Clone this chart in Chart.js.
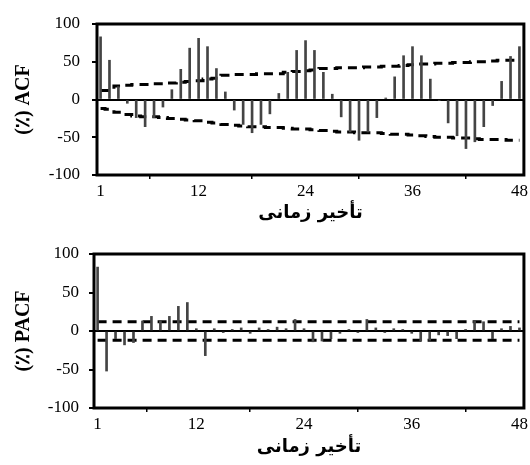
<!DOCTYPE html>
<html>
<head>
<meta charset="utf-8">
<script src="https://cdn.jsdelivr.net/npm/chart.js@4"></script>
<style>
  body { margin: 0; background: #fff; }
  #wrap { position: relative; width: 530px; height: 465px; }
  .box { position: absolute; left: 0; width: 530px; }
</style>
</head>
<body>
<div id="wrap">
  <div class="box" style="top:0;height:232px"><canvas id="acfChart"></canvas></div>
  <div class="box" style="top:232px;height:233px"><canvas id="pacfChart"></canvas></div>
</div>
<script>
const lags = [1, 2, 3, 4, 5, 6, 7, 8, 9, 10, 11, 12, 13, 14, 15, 16, 17, 18, 19, 20, 21, 22, 23, 24,
  25, 26, 27, 28, 29, 30, 31, 32, 33, 34, 35, 36, 37, 38, 39, 40, 41, 42, 43, 44, 45, 46, 47, 48];
const xTicks = [1, 12, 24, 36, 48];
const yTicks = [-100, -50, 0, 50, 100];

// autocorrelation (%)
const acf = [83, 52, 17, -5, -24, -36, -24, -10, 13, 40, 68, 81, 70, 41, 10, -14, -33, -44, -33, -19, 8, 36, 65, 78,
  65, 36, 7, -23, -43, -54, -43, -24, 2, 30, 58, 70, 58, 27, -1, -31, -48, -65, -56, -36, -8, 24, 57, 70];
const acfUpper = [12, 12, 18, 19, 20, 20, 21, 21, 22, 23, 24, 25, 27, 28, 32, 33, 33, 33, 34, 34, 34, 36, 37, 38,
  39, 41, 41, 42, 42, 42, 43, 43, 44, 44, 45, 46, 47, 47, 48, 48, 49, 49, 50, 50, 51, 52, 52, 53];
const acfLower = [-12, -13, -17, -20, -22, -23, -23, -24, -25, -26, -27, -28, -30, -31, -33, -34, -35, -36, -36, -37, -37, -38, -39, -39,
  -40, -41, -42, -43, -43, -44, -44, -44, -45, -46, -46, -47, -48, -49, -50, -50, -51, -51, -52, -53, -53, -53, -54, -54];

// partial autocorrelation (%)
const pacf = [83, -52, -10, -18, -15, 13, 19, 13, 19, 32, 37, 3, -32, 3, -2, 2, 4, -3, 4, 2, 5, 3, 15, 3,
  -14, -13, -10, -3, 2, -2, 15, 4, -2, 3, 2, -3, -13, -12, -5, -6, -10, 2, 13, 12, -10, 3, 6, 4];
const pacfLimit = 12;

const xTitle = 'تأخیر زمانی';

const frame = {
  id: 'frame',
  afterDatasetsDraw(chart) {
    const { ctx, chartArea: a } = chart;
    ctx.save();
    ctx.strokeStyle = '#000';
    ctx.lineWidth = 3;
    ctx.strokeRect(a.left, a.top, a.right - a.left, a.bottom - a.top);
    ctx.restore();
  }
};

function band(values, name) {
  return {
    type: 'line',
    label: name,
    data: lags.map((l, i) => ({ x: l, y: values[i] })),
    borderColor: '#000',
    borderWidth: 3,
    borderDash: [9, 6],
    stepped: 'middle',
    pointRadius: 0,
    fill: false
  };
}

function makeChart(id, values, upper, lower, yTitle, g) {
  return new Chart(document.getElementById(id), {
    type: 'bar',
    data: {
      datasets: [
        {
          label: yTitle,
          data: lags.map((l, i) => ({ x: l, y: values[i] })),
          backgroundColor: '#444',
          barThickness: 2
        },
        band(upper, 'upper'),
        band(lower, 'lower')
      ]
    },
    options: {
      responsive: true,
      maintainAspectRatio: false,
      animation: false,
      layout: { padding: { left: 0, right: g.right, top: g.top, bottom: 0 } },
      plugins: { legend: { display: false }, tooltip: { enabled: false } },
      scales: {
        x: {
          type: 'linear',
          min: 0.6,
          max: 48.5,
          offset: false,
          afterFit: (s) => { s.height = g.xHeight; },
          afterBuildTicks: (s) => { s.ticks = xTicks.map(v => ({ value: v })); },
          border: { display: false },
          grid: { drawOnChartArea: false, tickColor: '#000', tickLength: 4, lineWidth: 1.5 },
          ticks: {
            color: '#000',
            padding: 2,
            maxRotation: 0,
            font: { family: 'Liberation Serif', size: 17 }
          },
          title: {
            display: true,
            text: xTitle,
            color: '#000',
            padding: { top: 0, bottom: g.titlePad },
            font: { family: 'DejaVu Sans', size: 18, weight: 'bold' }
          }
        },
        y: {
          min: -100,
          max: 100,
          afterFit: (s) => { s.width = g.left; },
          afterBuildTicks: (s) => { s.ticks = yTicks.map(v => ({ value: v })); },
          border: { display: false },
          grid: {
            color: (c) => (c.tick && c.tick.value === 0 ? '#000' : 'rgba(0,0,0,0)'),
            lineWidth: 2,
            tickColor: '#000',
            tickLength: 5
          },
          ticks: {
            color: '#000',
            padding: g.yPad,
            font: { family: 'Liberation Serif', size: 17 }
          },
          title: {
            display: true,
            text: yTitle,
            color: '#000',
            padding: { top: 12, bottom: 0 },
            font: { family: 'Liberation Serif', size: 20, weight: 'bold' }
          }
        }
      }
    },
    plugins: [frame]
  });
}

makeChart('acfChart', acf, acfUpper, acfLower, '(٪) ACF',
  { left: 97, right: 6, top: 24, xHeight: 57, titlePad: 8, yPad: 12 });
makeChart('pacfChart', pacf, lags.map(() => pacfLimit), lags.map(() => -pacfLimit), '(٪) PACF',
  { left: 94, right: 5, top: 22, xHeight: 57, titlePad: 7, yPad: 10 });
</script>
</body>
</html>
